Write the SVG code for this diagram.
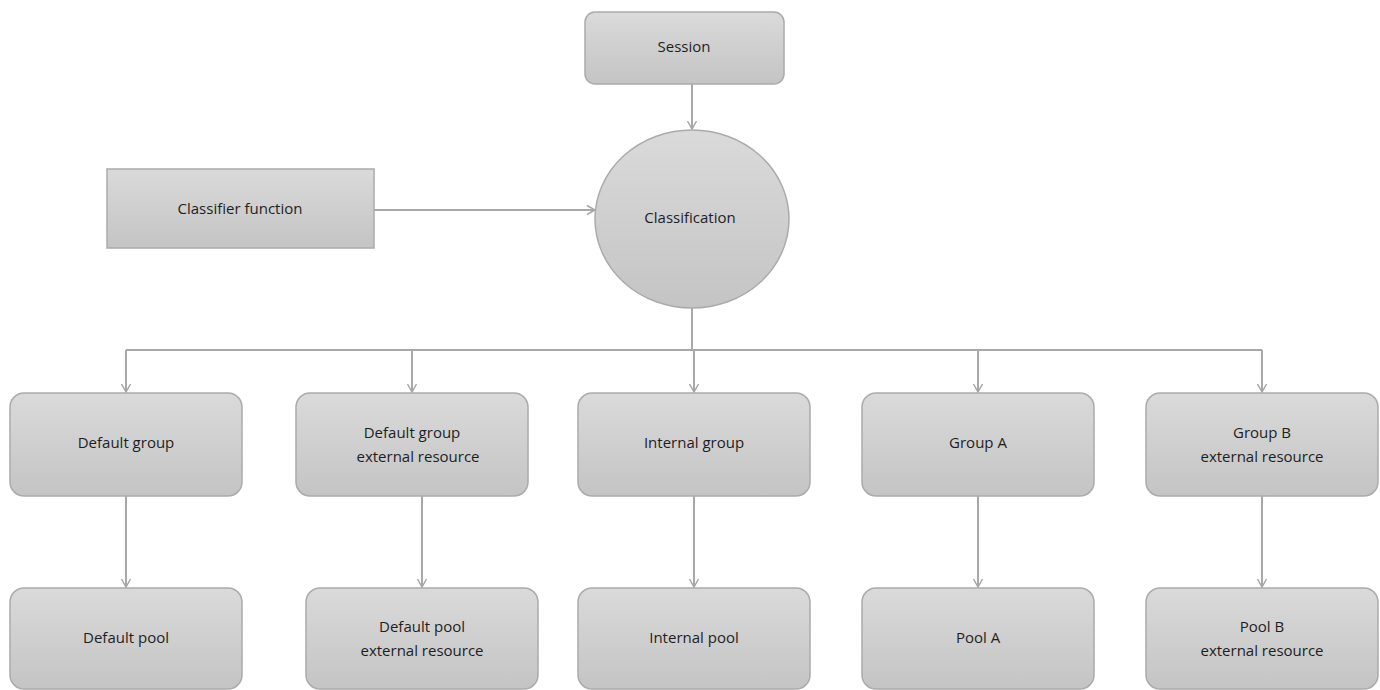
<svg xmlns="http://www.w3.org/2000/svg" width="1380" height="690" viewBox="0 0 1380 690">
<defs>
<linearGradient id="g" x1="0" y1="0" x2="0" y2="1">
<stop offset="0" stop-color="#dadada"/>
<stop offset="1" stop-color="#c4c4c4"/>
</linearGradient>
<marker id="arr" markerWidth="12" markerHeight="12" refX="10" refY="6" orient="auto" markerUnits="userSpaceOnUse">
<path d="M2,1.5 L10,6 L2,10.5" fill="none" stroke="#a6a6a6" stroke-width="1.5"/>
</marker>
</defs>
<style>
.box{fill:url(#g);stroke:#ababab;stroke-width:1.5}
.t{font-family:"Open Sans","Noto Sans",sans-serif;font-size:15px;fill:#1e1e1e;text-anchor:middle}
.c{fill:none;stroke:#a8a8a8;stroke-width:2}
</style>
<rect width="1380" height="690" fill="#ffffff"/>
<g id="connectors">
<line class="c" x1="692" y1="84" x2="692" y2="129" marker-end="url(#arr)"/>
<line class="c" x1="374" y1="210" x2="595" y2="210" marker-end="url(#arr)"/>
<polyline class="c" points="692,308 692,350"/>
<polyline class="c" points="126,350 1262,350"/>
<line class="c" x1="126" y1="350" x2="126" y2="392" marker-end="url(#arr)"/>
<line class="c" x1="412" y1="350" x2="412" y2="392" marker-end="url(#arr)"/>
<line class="c" x1="694" y1="350" x2="694" y2="392" marker-end="url(#arr)"/>
<line class="c" x1="978" y1="350" x2="978" y2="392" marker-end="url(#arr)"/>
<line class="c" x1="1262" y1="350" x2="1262" y2="392" marker-end="url(#arr)"/>
<line class="c" x1="126" y1="496" x2="126" y2="587" marker-end="url(#arr)"/>
<line class="c" x1="422" y1="496" x2="422" y2="587" marker-end="url(#arr)"/>
<line class="c" x1="694" y1="496" x2="694" y2="587" marker-end="url(#arr)"/>
<line class="c" x1="978" y1="496" x2="978" y2="587" marker-end="url(#arr)"/>
<line class="c" x1="1262" y1="496" x2="1262" y2="587" marker-end="url(#arr)"/>
</g>
<g id="session"><rect class="box" x="585" y="12" width="199" height="72" rx="10"/><text class="t" x="684" y="52">Session</text></g>
<g id="classifier"><rect class="box" x="107" y="169" width="267" height="79"/><text class="t" x="240" y="214">Classifier function</text></g>
<g id="classification"><ellipse class="box" cx="692" cy="219" rx="97" ry="89"/><text class="t" x="690" y="223">Classification</text></g>
<g id="default-group"><rect class="box" x="10" y="393" width="232" height="103" rx="14"/><text class="t" x="126" y="448">Default group</text></g>
<g id="default-group-ext"><rect class="box" x="296" y="393" width="232" height="103" rx="14"/><text class="t" x="412" y="438">Default group</text><text class="t" x="418" y="462">external resource</text></g>
<g id="internal-group"><rect class="box" x="578" y="393" width="232" height="103" rx="14"/><text class="t" x="694" y="448">Internal group</text></g>
<g id="group-a"><rect class="box" x="862" y="393" width="232" height="103" rx="14"/><text class="t" x="978" y="448">Group A</text></g>
<g id="group-b"><rect class="box" x="1146" y="393" width="232" height="103" rx="14"/><text class="t" x="1262" y="438">Group B</text><text class="t" x="1262" y="462">external resource</text></g>
<g id="default-pool"><rect class="box" x="10" y="588" width="232" height="101" rx="14"/><text class="t" x="126" y="643">Default pool</text></g>
<g id="default-pool-ext"><rect class="box" x="306" y="588" width="232" height="101" rx="14"/><text class="t" x="422" y="632">Default pool</text><text class="t" x="422" y="656">external resource</text></g>
<g id="internal-pool"><rect class="box" x="578" y="588" width="232" height="101" rx="14"/><text class="t" x="694" y="643">Internal pool</text></g>
<g id="pool-a"><rect class="box" x="862" y="588" width="232" height="101" rx="14"/><text class="t" x="978" y="643">Pool A</text></g>
<g id="pool-b"><rect class="box" x="1146" y="588" width="232" height="101" rx="14"/><text class="t" x="1262" y="632">Pool B</text><text class="t" x="1262" y="656">external resource</text></g>
</svg>
